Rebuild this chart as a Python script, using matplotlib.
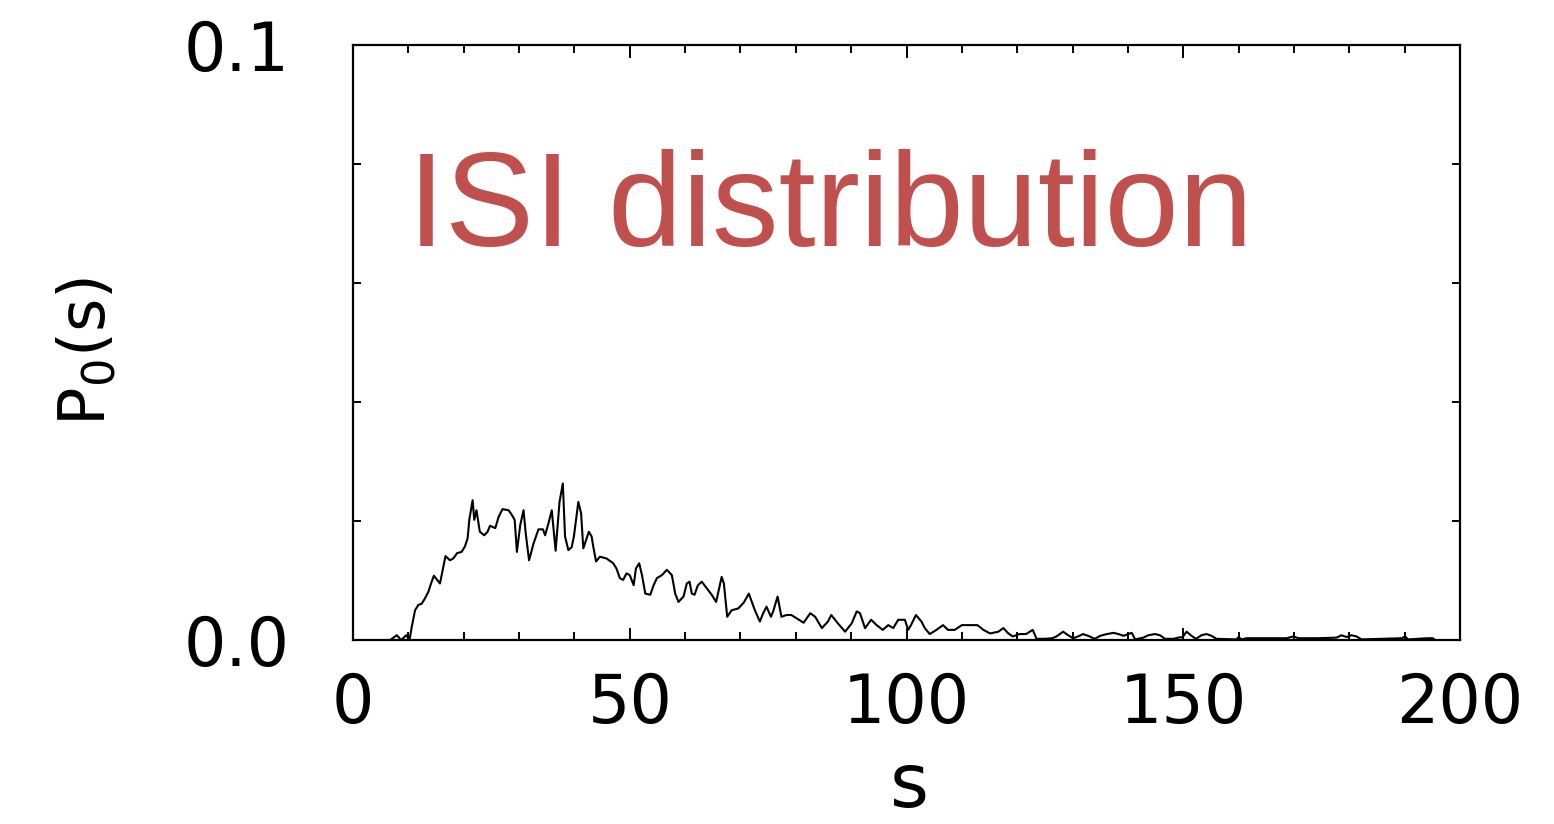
#----- importing modules -----
import matplotlib.pyplot as plt
from matplotlib.ticker import MultipleLocator

#----- data -----
isi_s = [6.7, 7.9, 8.7, 9.6, 10.2, 10.6, 11.2, 11.8, 12.4, 13.0, 13.6, 14.2, 14.6, 15.2, 15.7,
         16.3, 16.7, 17.5, 18.1, 18.8, 19.6, 20.2, 20.7, 21.0, 21.6, 21.9, 22.3, 22.9, 23.7, 24.3,
         24.75, 25.7, 26.3, 27.0, 28.1, 28.7, 29.2, 29.6, 30.2, 30.8, 31.2, 31.8, 32.6, 33.5, 34.3,
         34.7, 35.3, 35.9, 36.6, 37.3, 37.9, 38.3, 38.9, 39.5, 39.9, 40.4, 40.7, 41.2, 41.6, 42.2,
         42.6, 43.1, 43.4, 43.9, 44.6, 45.8, 47.0, 47.6, 48.2, 48.8, 49.4, 50.0, 50.7, 51.1, 51.7,
         52.2, 52.8, 53.7, 54.3, 54.9, 55.8, 56.7, 57.6, 58.2, 58.8, 59.7, 60.3, 60.8, 61.2, 61.7,
         62.3, 63.0, 63.9, 64.8, 65.6, 66.0, 66.6, 67.0, 67.6, 68.4, 69.6, 70.6, 71.5, 72.6, 73.5,
         74.1, 74.7, 75.5, 75.9, 76.7, 77.4, 78.3, 79.2, 80.2, 81.4, 82.6, 83.5, 84.7, 85.8, 86.4,
         87.6, 88.9, 90.1, 91.0, 91.6, 92.5, 93.6, 94.6, 95.7, 96.7, 97.6, 98.5, 99.7, 100.3, 100.8,
         101.7, 102.7, 103.3, 104.2, 105.4, 106.6, 107.5, 108.7, 110.0, 111.5, 112.8, 113.9, 115.1, 116.6, 117.5,
         118.4, 119.2, 120.4, 121.6, 122.8, 123.5, 125.0, 126.3, 127.1, 128.3, 129.2, 130.1, 131.0, 131.9, 133.1,
         134.0, 135.0, 136.2, 137.4, 138.3, 139.2, 140.1, 140.7, 141.3, 142.8, 143.7, 144.9, 145.8, 146.7, 148.2,
         149.1, 149.9, 150.6, 151.5, 152.3, 153.3, 154.2, 155.1, 156.0, 159.6, 160.0, 160.5, 161.4, 165.1, 168.7,
         169.9, 170.8, 174.4, 177.7, 178.6, 179.5, 180.4, 181.3, 182.2, 189.5, 190.1, 190.6, 194.2, 195.1, 195.5]
isi_p = [0.0, 0.0008, 0.0, 0.0008, 0.0, 0.0022, 0.005, 0.0059, 0.0061, 0.007, 0.0081, 0.0098, 0.0108, 0.0101, 0.0095,
         0.0123, 0.0141, 0.0134, 0.0137, 0.0146, 0.0148, 0.0157, 0.0171, 0.0202, 0.0235, 0.0202, 0.0218, 0.0182, 0.0176, 0.0182,
         0.0192, 0.0188, 0.0207, 0.022, 0.0218, 0.021, 0.0202, 0.0148, 0.0193, 0.0218, 0.0179, 0.0134, 0.0162, 0.0186, 0.0186,
         0.0176, 0.0196, 0.0218, 0.015, 0.0232, 0.0263, 0.0174, 0.0151, 0.0156, 0.0174, 0.021, 0.0232, 0.0213, 0.0154, 0.0171,
         0.0182, 0.0174, 0.0157, 0.0132, 0.014, 0.0137, 0.0129, 0.012, 0.0104, 0.0101, 0.0112, 0.0109, 0.0092, 0.012, 0.0129,
         0.0109, 0.0078, 0.0076, 0.0092, 0.0104, 0.0109, 0.0118, 0.0109, 0.0078, 0.0064, 0.0073, 0.0095, 0.0098, 0.0078, 0.0076,
         0.0092, 0.0098, 0.0087, 0.0076, 0.0064, 0.0081, 0.0106, 0.0095, 0.0039, 0.005, 0.0053, 0.0063, 0.0078, 0.005, 0.0031,
         0.0045, 0.0056, 0.0039, 0.0048, 0.0073, 0.0039, 0.0042, 0.0042, 0.0036, 0.0029, 0.0045, 0.0039, 0.002, 0.0031, 0.0042,
         0.0028, 0.0014, 0.0028, 0.0048, 0.0045, 0.002, 0.0034, 0.0025, 0.0017, 0.0025, 0.002, 0.0034, 0.0034, 0.0017, 0.0025,
         0.0042, 0.0031, 0.002, 0.001, 0.0017, 0.0025, 0.0017, 0.0017, 0.0025, 0.0025, 0.0025, 0.0017, 0.0011, 0.0014, 0.002,
         0.0011, 0.0006, 0.001, 0.001, 0.0017, 0.0002, 0.0002, 0.0003, 0.0006, 0.0014, 0.0008, 0.0003, 0.0006, 0.001, 0.0006,
         0.0002, 0.0007, 0.001, 0.0012, 0.001, 0.0007, 0.001, 0.0012, 0.0001, 0.0004, 0.0008, 0.001, 0.0008, 0.0002, 0.0002,
         0.0004, 0.0005, 0.0014, 0.0007, 0.0002, 0.0008, 0.001, 0.0007, 0.0002, 0.0001, 0.0005, 0.0001, 0.0003, 0.0003, 0.0003,
         0.0006, 0.0003, 0.0003, 0.0004, 0.0008, 0.0005, 0.0008, 0.0006, 0.0001, 0.0003, 0.0006, 0.0001, 0.0003, 0.0003, 0.0]

x_ticks = [0, 50, 100, 150, 200]
y_ticks = [0.0, 0.1]
y_tick_labels = ["0.0", "0.1"]

#----- figure -----
plt.rcParams['font.family'] = 'DejaVu Sans'
fig = plt.figure(figsize=(15.54, 8.24), dpi=100)
ax = fig.add_axes([0.2272, 0.2233, 0.7123, 0.7221])

ax.plot(isi_s, isi_p, color='black', linewidth=1.5)

ax.set_xlim(0, 200)
ax.set_ylim(0, 0.1)
ax.set_xticks(x_ticks)
ax.set_yticks(y_ticks)
ax.set_yticklabels(y_tick_labels)
ax.xaxis.set_minor_locator(MultipleLocator(10))
ax.yaxis.set_minor_locator(MultipleLocator(0.02))

for sp in ax.spines.values():
    sp.set_linewidth(1.6)

ax.tick_params(which='both', direction='in', top=True, right=True, width=1.4)
ax.tick_params(which='major', length=9)
ax.tick_params(which='minor', length=6)
ax.tick_params(axis='x', which='major', labelsize=48, pad=22)
ax.tick_params(axis='y', which='major', labelsize=48, pad=46, length=0)
for lab in ax.get_xticklabels() + ax.get_yticklabels():
    lab.set_fontweight('medium')

ax.set_xlabel("s", fontsize=54)
ax.xaxis.set_label_coords(0.503, -0.185)
ax.set_ylabel(r"P$_{\mathregular{0}}$(s)", fontsize=46)
ax.yaxis.set_label_coords(-0.212, 0.484)

#----- the red caption inside the plot -----
ax.text(0.05, 0.72, "ISI distribution", transform=ax.transAxes, color='#C0504D',
        fontsize=96, family='Liberation Sans', va='center', ha='left')

fig.savefig("out.png", dpi=100)
